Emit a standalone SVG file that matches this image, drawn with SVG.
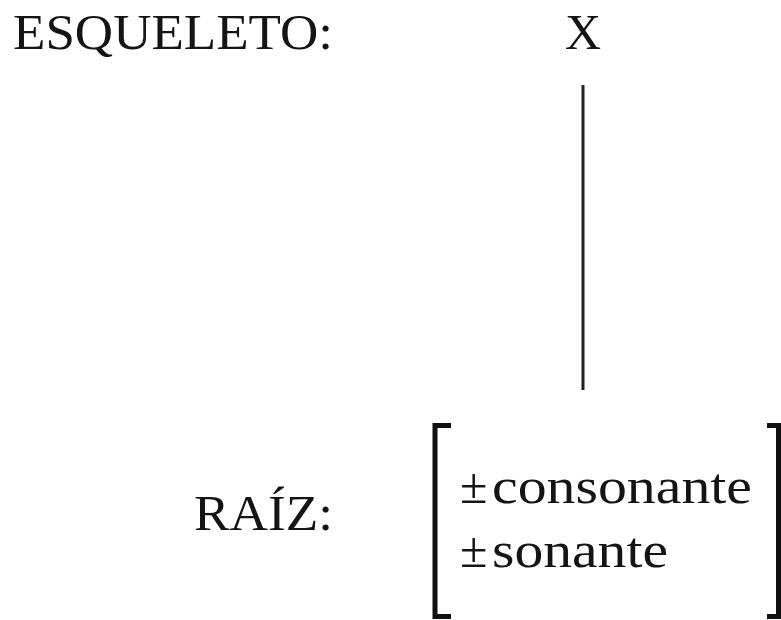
<svg xmlns="http://www.w3.org/2000/svg" width="781" height="620" viewBox="0 0 781 620">
<style>
.t{font-family:"Liberation Serif","Times New Roman",serif;font-size:50px;fill:#141414}
.br{fill:none;stroke:#111;stroke-width:5;stroke-linejoin:miter}
.ln{stroke:#222;stroke-width:3}
</style>
<rect width="781" height="620" fill="#fff"/>
<g id="esqueleto-label"><text class="t" x="13" y="49" textLength="320" lengthAdjust="spacingAndGlyphs">ESQUELETO:</text></g>
<g id="x-node"><text class="t" x="583" y="49" text-anchor="middle">X</text></g>
<g id="connectors"><line class="ln" x1="583" y1="85" x2="583" y2="390"/></g>
<g id="raiz-label"><text class="t" x="194" y="530" textLength="139" lengthAdjust="spacingAndGlyphs">RAÍZ:</text></g>
<g id="raiz-matrix">
<path class="br" d="M451,425.5 H435 V616.5 H451"/>
<path class="br" d="M767,425.5 H778.5 V616.5 H767"/>
<text class="t" x="460" y="503">±</text>
<text class="t" x="492" y="503" textLength="260" lengthAdjust="spacingAndGlyphs">consonante</text>
<text class="t" x="460" y="567">±</text>
<text class="t" x="492" y="567" textLength="176" lengthAdjust="spacingAndGlyphs">sonante</text>
</g>
</svg>
